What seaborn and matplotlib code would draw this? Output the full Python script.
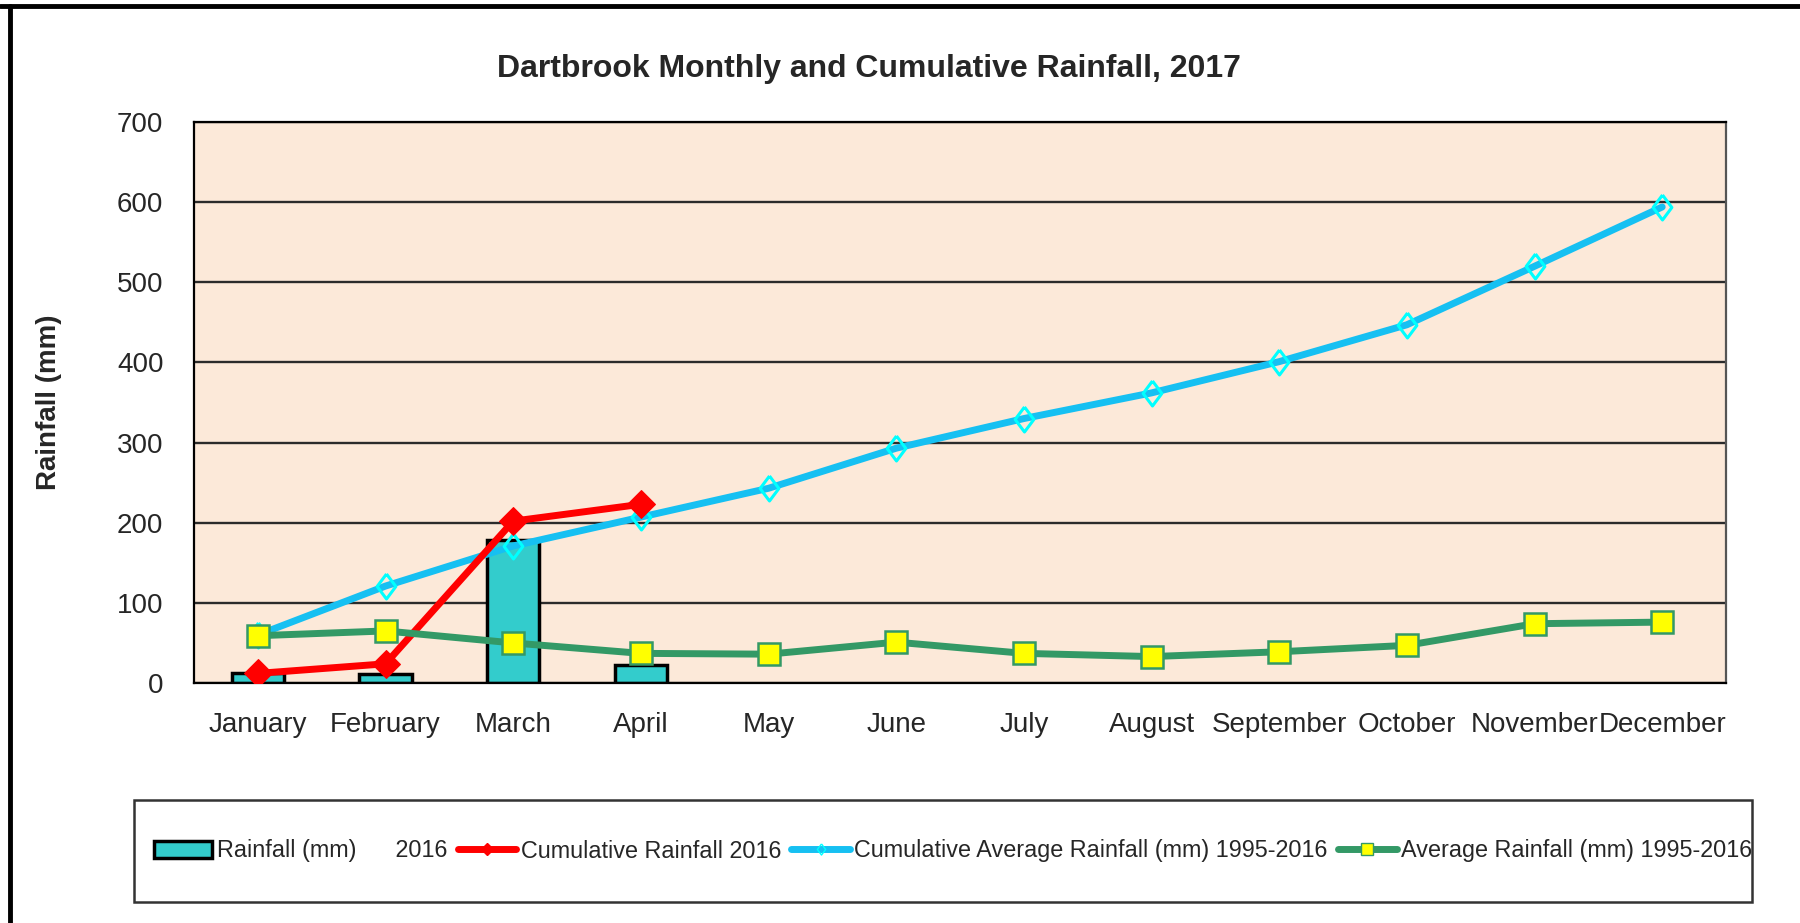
import numpy as np
import pandas as pd
import seaborn as sns
import matplotlib.pyplot as plt
from matplotlib.patches import Patch, Rectangle
from matplotlib.lines import Line2D

# Data
months = ['January', 'February', 'March', 'April', 'May', 'June', 'July',
          'August', 'September', 'October', 'November', 'December']
rainfall = [13, 11, 178, 23]                 # monthly rainfall (mm), Jan-Apr
cum_rain = [12, 24, 202, 223]                # cumulative rainfall
cum_avg = [60, 121, 171, 207, 243, 293, 330, 362, 401, 447, 520, 594]
avg_rain = [59, 65, 50, 37, 36, 51, 37, 33, 39, 47, 74, 76]
yticks = [0, 100, 200, 300, 400, 500, 600, 700]

sns.set_style('white')
plt.rcParams['font.family'] = ['Liberation Sans', 'DejaVu Sans']

# Excel-like open diamond, taller than wide
tall_diamond = [(0, 1), (0.75, 0), (0, -1), (-0.75, 0), (0, 1)]

fig = plt.figure(figsize=(18, 9.23), dpi=100)
ax = fig.add_axes([0.1078, 0.26, 0.8511, 0.6078])
ax.set_facecolor('#FCE9D9')
ax.set_axisbelow(True)

pos = np.arange(len(months))
bars = pd.DataFrame({'x': pos[:len(rainfall)], 'rain': rainfall})
sns.barplot(data=bars, x='x', y='rain', native_scale=True, width=0.41,
            color='#33CCCC', saturation=1, edgecolor='black', linewidth=2.5,
            ax=ax, zorder=2)

sns.lineplot(x=pos[:len(cum_rain)], y=cum_rain, color='#FF0000', lw=5,
             marker='D', markersize=14, markeredgecolor='#FF0000',
             ax=ax, zorder=4)
sns.lineplot(x=pos, y=cum_avg, color='#16C0F2', lw=5,
             marker=tall_diamond, markersize=18, markerfacecolor='none',
             markeredgecolor='#00FFFF', markeredgewidth=2.2, ax=ax, zorder=3)
sns.lineplot(x=pos, y=avg_rain, color='#339966', lw=5,
             marker='s', markersize=16, markerfacecolor='#FFFF00',
             markeredgecolor='#339966', markeredgewidth=1.8, ax=ax, zorder=5)

ax.set_xlim(-0.5, len(months) - 0.5)
ax.set_ylim(0, 700)
ax.set_yticks(yticks)
ax.set_yticklabels([str(v) for v in yticks])
ax.set_xticks(pos)
ax.set_xticklabels(months)
ax.set_xticks(np.arange(-0.5, len(months)), minor=True)
ax.tick_params(axis='x', which='major', length=0, pad=21, labelsize=20)
ax.tick_params(axis='x', which='minor', length=8, width=1.5, direction='out', color='black')
ax.tick_params(axis='y', length=8, width=1.5, direction='out', color='black', pad=14, labelsize=20)
ax.yaxis.grid(True, color='#2b2b2b', lw=1.7)
ax.xaxis.grid(False)
ax.set_xlabel('')
ax.set_ylabel('Rainfall (mm)', fontsize=20, fontweight='bold')
ax.yaxis.set_label_coords(-0.086, 0.5)

for side in ['left', 'bottom', 'top']:
    ax.spines[side].set_color('black')
    ax.spines[side].set_linewidth(1.6)
ax.spines['right'].set_color('#555555')
ax.spines['right'].set_linewidth(1.6)

fig.text(0.483, 0.925, 'Dartbrook Monthly and Cumulative Rainfall, 2017',
         ha='center', va='center', fontsize=23, fontweight='bold')

# Legend box and entries
fig.patches.append(Rectangle((134 / 1800, 1 - 902 / 923), (1752 - 134) / 1800,
                             (902 - 800) / 923, transform=fig.transFigure,
                             facecolor='white', edgecolor='#333333', lw=1.8))
handles = [
    Patch(facecolor='#33CCCC', edgecolor='black', linewidth=2.5),
    Line2D([], [], color='#FF0000', lw=5, marker='D', markersize=6),
    Line2D([], [], color='#16C0F2', lw=5, marker=tall_diamond, markersize=8,
           markerfacecolor='none', markeredgecolor='#00FFFF'),
    Line2D([], [], color='#339966', lw=5, marker='s', markersize=9,
           markerfacecolor='#FFFF00', markeredgecolor='#339966'),
]
labels = ['Rainfall (mm)      2016', 'Cumulative Rainfall 2016',
          'Cumulative Average Rainfall (mm) 1995-2016',
          'Average Rainfall (mm) 1995-2016']
fig.legend(handles, labels, loc='center', bbox_to_anchor=(953 / 1800, 1 - 851 / 923),
           ncol=4, frameon=False, fontsize=16.8, handlelength=2.5,
           handletextpad=0.2, columnspacing=0.45, handleheight=0.7)

# Outer frame (top and left edges drawn heavy)
fig.add_artist(Line2D([0, 1], [1 - 6 / 923, 1 - 6 / 923], color='black', lw=3.5,
                      transform=fig.transFigure))
fig.add_artist(Line2D([10 / 1800, 10 / 1800], [0, 1 - 6 / 923], color='black', lw=3.5,
                      transform=fig.transFigure))

fig.savefig('out.png', dpi=100)
